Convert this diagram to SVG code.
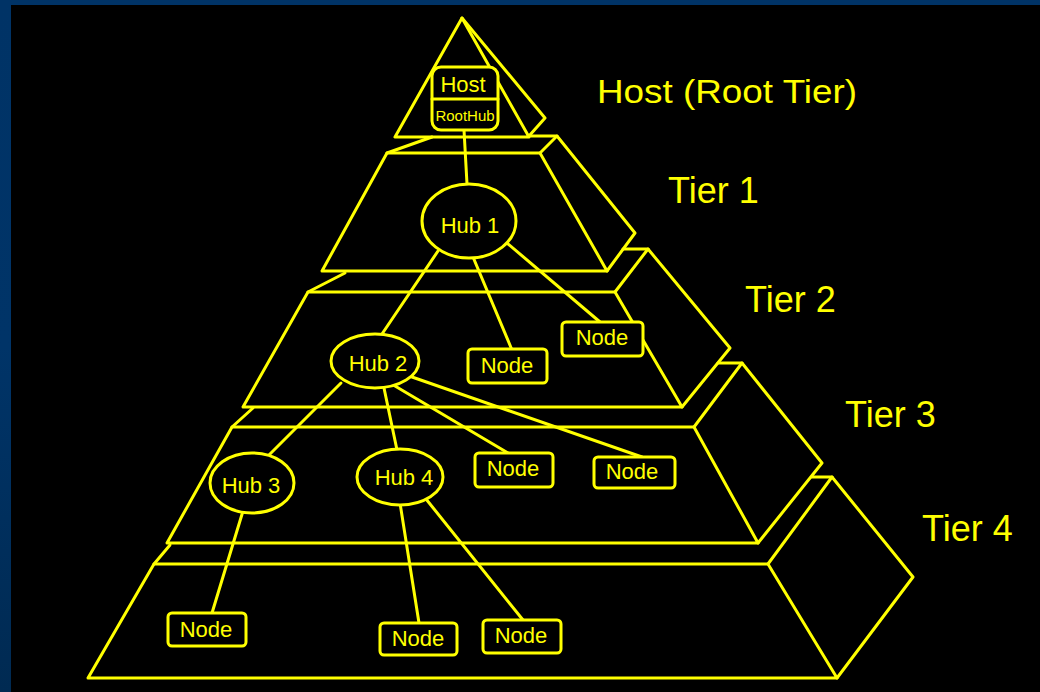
<svg xmlns="http://www.w3.org/2000/svg" width="1040" height="692" viewBox="0 0 1040 692">
<defs>
<linearGradient id="bg" x1="0" y1="0" x2="0" y2="1">
<stop offset="0" stop-color="#003366"/>
<stop offset="0.5" stop-color="#003468"/>
<stop offset="1" stop-color="#002a52"/>
</linearGradient>
<style>
.ln{fill:none;stroke:#ffff00;stroke-width:3;stroke-linejoin:round;stroke-linecap:round}
.shape{fill:#000;stroke:#ffff00;stroke-width:3}
.t{fill:#ffff00;font-family:"Liberation Sans",Arial,Helvetica,sans-serif}
.nt{font-size:22px;text-anchor:middle}
.lab{font-size:36px}
</style>
</defs>
<rect x="0" y="0" width="1040" height="692" fill="url(#bg)"/>
<rect x="11" y="5" width="1029" height="687" fill="#000"/>

<g id="pyramid">
<g id="host-tier">
<path class="ln" d="M462,18 L395,137 L529,137 Z"/>
<path class="ln" d="M462,18 L545,118 L529,136"/>
</g>
<g id="tier1">
<path class="ln" d="M387,153 L540,153 L607,271 L322,271 Z"/>
<path class="ln" d="M387,153 L432,137"/>
<path class="ln" d="M529,136 L557,136 L635,233 L607,271"/>
<path class="ln" d="M540,153 L557,136"/>
</g>
<g id="tier2">
<path class="ln" d="M308,292 L615,292 L682,407 L243,407 Z"/>
<path class="ln" d="M308,292 L345,273"/>
<path class="ln" d="M623,249 L648,249 L730,348 L682,407"/>
<path class="ln" d="M615,292 L648,249"/>
</g>
<g id="tier3">
<path class="ln" d="M232,427 L694,427 L758,543 L167,543 Z"/>
<path class="ln" d="M232,427 L253,408"/>
<path class="ln" d="M718,363 L742,363 L822,463 L758,543"/>
<path class="ln" d="M694,427 L742,363"/>
</g>
<g id="tier4">
<path class="ln" d="M154,564 L768,564 L837,678 L88,678 Z"/>
<path class="ln" d="M154,564 L170,545"/>
<path class="ln" d="M812,477 L832,477 L913,577 L837,678"/>
<path class="ln" d="M768,564 L832,477"/>
</g>
</g>

<g id="connectors">
<path class="ln" d="M464,130 L467,184"/>
<path class="ln" d="M438,251 L382,334"/>
<path class="ln" d="M473,257 L512,350"/>
<path class="ln" d="M507,243 L600,322"/>
<path class="ln" d="M341,383 L269,455"/>
<path class="ln" d="M384,388 L397,450"/>
<path class="ln" d="M395,386 L508,453"/>
<path class="ln" d="M412,377 L642,457"/>
<path class="ln" d="M243,511 L212,613"/>
<path class="ln" d="M400,503 L419,623"/>
<path class="ln" d="M426,499 L523,620"/>
</g>

<g id="host">
<rect class="shape" x="432" y="67" width="66" height="63" rx="9"/>
<line class="ln" x1="432" y1="99" x2="498" y2="99"/>
<text class="t" x="463" y="92" font-size="22" text-anchor="middle">Host</text>
<text class="t" x="465" y="121" font-size="15" text-anchor="middle">RootHub</text>
</g>

<g id="hub1">
<ellipse class="shape" cx="469" cy="221" rx="47" ry="37"/>
<text class="t nt" x="470" y="233">Hub 1</text>
</g>
<g id="hub2">
<ellipse class="shape" cx="375" cy="361" rx="44" ry="27"/>
<text class="t nt" x="378" y="371">Hub 2</text>
</g>
<g id="hub3">
<ellipse class="shape" cx="252" cy="483" rx="42" ry="30"/>
<text class="t nt" x="251" y="493">Hub 3</text>
</g>
<g id="hub4">
<ellipse class="shape" cx="400" cy="477" rx="43" ry="28"/>
<text class="t nt" x="404" y="485">Hub 4</text>
</g>

<g id="node-t2a">
<rect class="shape" x="468" y="349" width="79" height="34" rx="4"/>
<text class="t nt" x="507" y="373">Node</text>
</g>
<g id="node-t2b">
<rect class="shape" x="562" y="322" width="81" height="34" rx="4"/>
<text class="t nt" x="602" y="345">Node</text>
</g>
<g id="node-t3a">
<rect class="shape" x="475" y="453" width="78" height="34" rx="4"/>
<text class="t nt" x="513" y="476">Node</text>
</g>
<g id="node-t3b">
<rect class="shape" x="594" y="457" width="81" height="31" rx="4"/>
<text class="t nt" x="632" y="479">Node</text>
</g>
<g id="node-t4a">
<rect class="shape" x="168" y="613" width="78" height="33" rx="4"/>
<text class="t nt" x="206" y="637">Node</text>
</g>
<g id="node-t4b">
<rect class="shape" x="380" y="623" width="77" height="32" rx="4"/>
<text class="t nt" x="418" y="646">Node</text>
</g>
<g id="node-t4c">
<rect class="shape" x="483" y="620" width="78" height="33" rx="4"/>
<text class="t nt" x="521" y="643">Node</text>
</g>

<g id="labels">
<text class="t" x="597" y="103" font-size="33" textLength="260" lengthAdjust="spacingAndGlyphs">Host (Root Tier)</text>
<text class="t lab" x="668" y="203">Tier 1</text>
<text class="t lab" x="745" y="312">Tier 2</text>
<text class="t lab" x="845" y="427">Tier 3</text>
<text class="t lab" x="922" y="541">Tier 4</text>
</g>
</svg>
